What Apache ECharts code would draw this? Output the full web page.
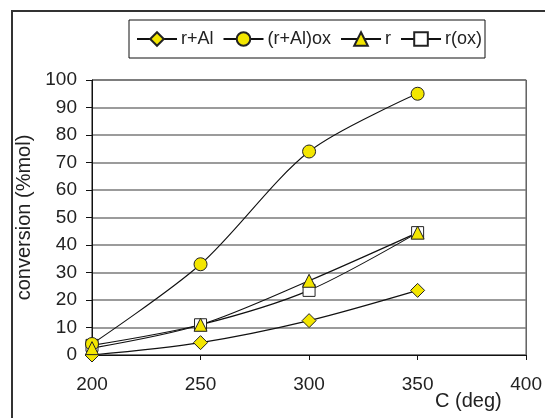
<!DOCTYPE html>
<html>
<head>
<meta charset="utf-8">
<script src="https://cdn.jsdelivr.net/npm/echarts@6/dist/echarts.min.js"></script>
<style>
  html, body { margin: 0; padding: 0; background: #fff; }
  #chart { width: 545px; height: 418px; }
</style>
</head>
<body>
<div id="chart"></div>
<script>
// temperatures (deg C)
const temps = [200, 250, 300, 350]
// conversion (%mol)
const rAl = [0, 4.5, 12.5, 23.5]
const rAlOx = [4, 33, 74, 95]
const r = [2.5, 11, 27, 44.5]
const rOx = [3.5, 11, 23.5, 44.5]

const yellow = '#f3e600'
const font = 'Liberation Sans, Arial, sans-serif'

const pairs = vals => temps.map((t, i) => [t, vals[i]])

const mkSeries = (name, vals, symbol, size, fill) => ({
  name,
  type: 'line',
  smooth: 0.3,
  symbol,
  symbolSize: size,
  showAllSymbol: true,
  lineStyle: { color: '#111', width: 1.1 },
  itemStyle: { color: fill, borderColor: '#222', borderWidth: 1 },
  emphasis: { disabled: true },
  data: pairs(vals)
})

const chart = echarts.init(document.getElementById('chart'))
chart.setOption({
  backgroundColor: '#fff',
  animation: false,
  graphic: [
    {
      type: 'rect',
      shape: { x: 12, y: 11, width: 600, height: 500 },
      style: { fill: 'none', stroke: '#333', lineWidth: 2 }
    },
    {
      type: 'text',
      left: 435,
      top: 391,
      style: { text: 'C (deg)', font: '20px ' + font, fill: '#222' }
    }
  ],
  legend: {
    left: 129,
    top: 20,
    padding: [10, 3, 10, 7],
    borderColor: '#111',
    borderWidth: 1,
    itemGap: 9,
    itemWidth: 40,
    itemHeight: 17,
    textStyle: { fontFamily: font, fontSize: 18, color: '#222', padding: [0, 0, 0, -1] },
    data: ['r+Al', '(r+Al)ox', 'r', 'r(ox)']
  },
  grid: {
    left: 92,
    right: 17,
    top: 80,
    bottom: 63,
    show: true,
    borderColor: '#111',
    borderWidth: 1
  },
  xAxis: {
    type: 'value',
    min: 200,
    max: 400,
    interval: 50,
    axisLine: { lineStyle: { color: '#111' } },
    axisTick: { show: true, length: 5, lineStyle: { color: '#111' } },
    axisLabel: { margin: 20, fontFamily: font, fontSize: 19, color: '#222' },
    splitLine: { show: false }
  },
  yAxis: {
    type: 'value',
    min: 0,
    max: 100,
    interval: 10,
    name: 'conversion (%mol)',
    nameLocation: 'middle',
    nameGap: 45,
    nameTextStyle: { fontFamily: font, fontSize: 20, color: '#222' },
    axisLine: { show: true, lineStyle: { color: '#111' } },
    axisTick: { show: true, length: 6, lineStyle: { color: '#111' } },
    axisLabel: { margin: 15, fontFamily: font, fontSize: 19, color: '#222' },
    splitLine: { lineStyle: { color: '#7a7a7a', width: 1.5 } }
  },
  // drawing order: later series sit on top (triangles over squares, as in the original)
  series: [
    mkSeries('r(ox)', rOx, 'rect', 12, '#fff'),
    mkSeries('r+Al', rAl, 'diamond', 14, yellow),
    mkSeries('(r+Al)ox', rAlOx, 'circle', 13, yellow),
    mkSeries('r', r, 'triangle', 13, yellow)
  ]
})
</script>
</body>
</html>
